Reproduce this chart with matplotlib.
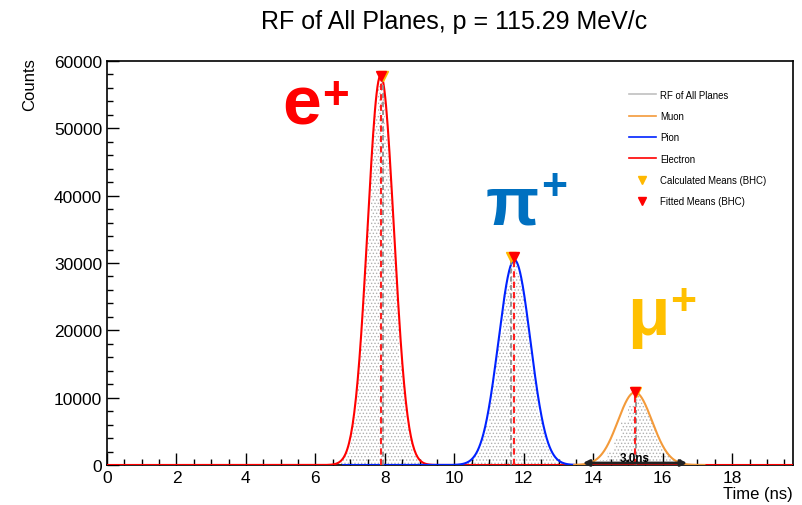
import numpy as np
import matplotlib
matplotlib.use("Agg")
import matplotlib.pyplot as plt
from matplotlib.lines import Line2D
from matplotlib.path import Path
from matplotlib.ticker import MultipleLocator

plt.rcParams['font.family'] = ['Liberation Sans', 'DejaVu Sans']
plt.rcParams['hatch.linewidth'] = 0.6

# histogram of RF time, 0.2 ns bins starting at 6.6 ns
hist_start = 6.6
bin_width = 0.2
counts = [470, 2100, 7100, 18000, 35200, 51800, 57900, 49000, 31500, 15300, 5600, 1600, 350,
          0, 0, 0, 0, 0,
          240, 860, 2500, 6000, 11900, 19700, 26900, 30400, 28500, 22100, 14100, 7500, 3300, 1200, 360, 90,
          0, 0,
          80, 280, 790, 1900, 3800, 6400, 9050, 10750, 10750, 9050, 6400, 3800, 1900, 790, 280, 80]

# gaussian fit results: electron, pion, muon
particles = ['Electron', 'Pion', 'Muon']
fit_amp = [57900, 30450, 10800]
fit_mean = [7.88, 11.73, 15.20]
fit_sigma = [0.38, 0.46, 0.49]
fit_range = [(0.0, 19.75), (6.8, 13.45), (13.45, 17.2)]
fit_color = ['#ff0000', '#0022ff', '#f39a3a']

# calculated means (BHC) and marker heights
calc_mean = [7.96, 11.62, 15.22]
calc_peak = [57800, 30900, 10850]
fitted_peak = [57800, 30900, 10850]

title = "RF of All Planes, p = 115.29 MeV/c"

fig = plt.figure(figsize=(8.03, 5.06), dpi=100)
ax = fig.add_axes([107 / 803, 1 - 466 / 506, (793 - 107) / 803, (466 - 62) / 506])

curve_paths = []
for i in range(3):
    t = np.linspace(fit_range[i][0], fit_range[i][1], 800)
    y = fit_amp[i] * np.exp(-0.5 * ((t - fit_mean[i]) / fit_sigma[i]) ** 2)
    ax.plot(t, y, color=fit_color[i], lw=1.5, zorder=3 + i)
    verts = np.column_stack([np.r_[t, t[::-1], t[0]], np.r_[y, np.zeros_like(y), y[0]]])
    curve_paths.append(Path(verts, closed=True))

# histogram shown as a dotted fill under the fits
edges = hist_start + bin_width * np.arange(len(counts) + 1)
hist = ax.stairs(counts, edges, fill=True, facecolor='white', edgecolor='#b0b0b0',
                 hatch='.....', linewidth=0, zorder=1)
hist.set_clip_path(Path.make_compound_path(*curve_paths), ax.transData)

# mean lines
for i in range(3):
    ax.plot([calc_mean[i], calc_mean[i]], [0, calc_peak[i]], color='#888888',
            lw=1.2, ls=(0, (3, 2)), zorder=6)
    ax.plot([fit_mean[i], fit_mean[i]], [0, fitted_peak[i]], color='#ff2020',
            lw=1.5, ls=(0, (3, 2)), zorder=7)

ax.plot(calc_mean, calc_peak, 'v', color='#ffb800', ms=7, zorder=8)
ax.plot(fit_mean, fitted_peak, 'v', color='#ff0000', ms=7, zorder=9)

# 3 ns window around the muon peak
ax.annotate('', xy=(fit_mean[2] + 1.5, 300), xytext=(fit_mean[2] - 1.5, 300),
            arrowprops=dict(arrowstyle='<|-|>', color='#222222', lw=2, mutation_scale=9,
                            shrinkA=0, shrinkB=0),
            zorder=10)
ax.text(fit_mean[2], 1000, '3.0ns', ha='center', va='center', fontsize=8.5,
        fontweight='bold', zorder=11)

# particle labels
ax.text(5.61, 50650, 'e', color='#ff0000', fontsize=50, fontweight='bold', ha='center', va='baseline')
ax.text(6.58, 54800, '+', color='#ff0000', fontsize=33, fontweight='bold', ha='center', va='center')
ax.text(11.67, 35900, '\u03c0', color='#0070c0', fontsize=50, fontweight='bold', ha='center', va='baseline')
ax.text(12.88, 41140, '+', color='#0070c0', fontsize=32, fontweight='bold', ha='center', va='center')
ax.text(15.58, 19460, '\u03bc', color='#ffc000', fontsize=50, fontweight='bold', ha='center', va='baseline')
ax.text(16.59, 24060, '+', color='#ffc000', fontsize=32, fontweight='bold', ha='center', va='center')

ax.set_xlim(0, 19.75)
ax.set_ylim(0, 60000)
ax.xaxis.set_major_locator(MultipleLocator(2))
ax.xaxis.set_minor_locator(MultipleLocator(0.5))
ax.yaxis.set_major_locator(MultipleLocator(10000))
ax.yaxis.set_minor_locator(MultipleLocator(2000))
ax.tick_params(which='both', direction='in', top=False, right=False, labelsize=12.5, width=1)
ax.tick_params(which='major', length=8.5)
ax.tick_params(which='minor', length=4.2)
for s in ax.spines.values():
    s.set_linewidth(1.2)

fig.text(454 / 803, 1 - 22 / 506, title, ha='center', va='center', fontsize=18)
fig.text(30 / 803, 1 - 58 / 506, 'Counts', rotation=90, ha='center', va='top', fontsize=12)
fig.text(793 / 803, 1 - 495 / 506, 'Time (ns)', ha='right', va='center', fontsize=12)

handles = [Line2D([], [], color='#c0c0c0', lw=1.2),
           Line2D([], [], color=fit_color[2], lw=1.2),
           Line2D([], [], color=fit_color[1], lw=1.2),
           Line2D([], [], color=fit_color[0], lw=1.2),
           Line2D([], [], ls='none', marker='v', color='#ffb800', ms=6),
           Line2D([], [], ls='none', marker='v', color='#ff0000', ms=6)]
labels = ['RF of All Planes', 'Muon', 'Pion', 'Electron',
          'Calculated Means (BHC)', 'Fitted Means (BHC)']
ax.legend(handles, labels, frameon=False, fontsize=6.9, loc='upper left',
          bbox_to_anchor=(624 / 803, 1 - 86 / 506), bbox_transform=fig.transFigure,
          handlelength=2.8, handletextpad=0.45, labelspacing=1.18, borderpad=0)

fig.savefig('out.png', dpi=100)
